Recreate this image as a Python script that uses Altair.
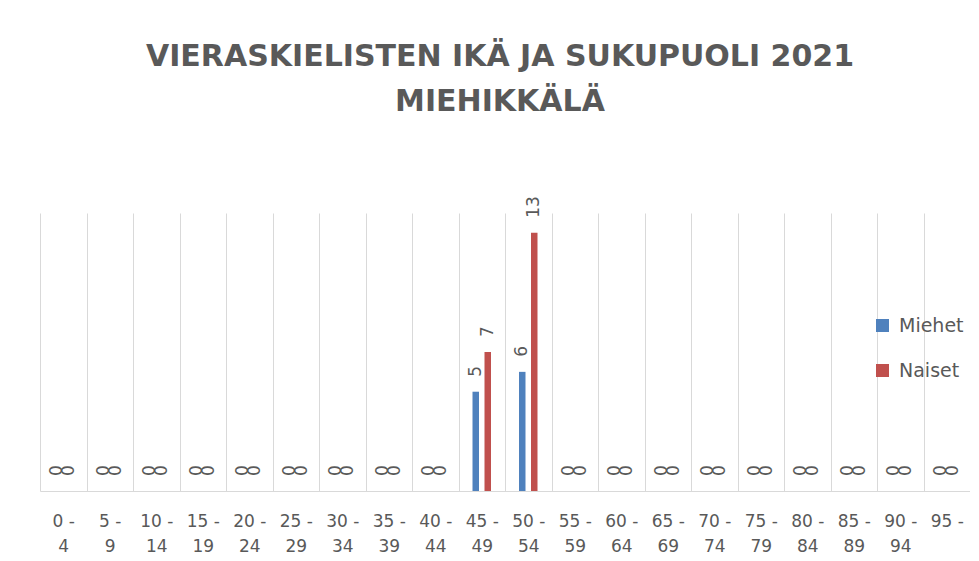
import altair as alt
import pandas as pd

categories = ["0 - 4", "5 - 9", "10 - 14", "15 - 19", "20 - 24", "25 - 29", "30 - 34",
              "35 - 39", "40 - 44", "45 - 49", "50 - 54", "55 - 59", "60 - 64", "65 - 69",
              "70 - 74", "75 - 79", "80 - 84", "85 - 89", "90 - 94", "95 -"]
miehet = [0, 0, 0, 0, 0, 0, 0, 0, 0, 5, 6, 0, 0, 0, 0, 0, 0, 0, 0, 0]
naiset = [0, 0, 0, 0, 0, 0, 0, 0, 0, 7, 13, 0, 0, 0, 0, 0, 0, 0, 0, 0]
series = ["Miehet", "Naiset"]
colors = ["#4F81BD", "#C0504D"]

rows = []
for c, m, n in zip(categories, miehet, naiset):
    rows.append({"ika": c, "sukupuoli": "Miehet", "arvo": m})
    rows.append({"ika": c, "sukupuoli": "Naiset", "arvo": n})
df = pd.DataFrame(rows)

FONT = "DejaVu Sans"
GREY = "#595959"

label_expr = ("indexof(datum.label, ' - ') >= 0 ? "
              "[slice(datum.label, 0, indexof(datum.label, ' - ') + 2), "
              "slice(datum.label, indexof(datum.label, ' - ') + 3)] : datum.label")

x = alt.X("ika:N", sort=categories,
          scale=alt.Scale(paddingInner=0, paddingOuter=0),
          axis=alt.Axis(title=None, labelAngle=0, ticks=False, tickSize=0,
                        grid=True, gridColor="#D9D9D9", gridWidth=1,
                        tickBand="extent", domainColor="#D9D9D9", domainWidth=1,
                        labelFont=FONT, labelFontSize=17, labelColor=GREY,
                        labelPadding=22, labelLineHeight=25, labelOverlap=False,
                        labelFlush=False, labelExpr=label_expr))
xo = alt.XOffset("sukupuoli:N",
                 scale=alt.Scale(domain=series, paddingInner=0, paddingOuter=0.9375))
y = alt.Y("arvo:Q", scale=alt.Scale(domain=[0, 14], nice=False), axis=None)

bars = alt.Chart(df).mark_bar(width=6.5).encode(
    x=x, xOffset=xo, y=y,
    color=alt.Color("sukupuoli:N",
                    scale=alt.Scale(domain=series, range=colors),
                    legend=alt.Legend(title=None, orient="none", legendX=833, legendY=103,
                                      symbolType="square", symbolSize=169,
                                      symbolStrokeWidth=0, symbolOpacity=1,
                                      labelFont=FONT, labelFontSize=19, labelColor=GREY,
                                      labelOffset=7, rowPadding=25, padding=0)),
)

labels = alt.Chart(df).mark_text(angle=270, align="left", baseline="middle", dx=15,
                                 font=FONT, fontSize=17, color=GREY).encode(
    x=x, xOffset=xo, y=y, text=alt.Text("arvo:Q"))

chart = alt.layer(bars, labels).properties(
    width=930, height=278,
    title=alt.TitleParams(["VIERASKIELISTEN IKÄ JA SUKUPUOLI 2021", "MIEHIKKÄLÄ"],
                          font=FONT, fontSize=30, fontWeight="bold", color=GREY,
                          anchor="middle", baseline="alphabetic", lineHeight=45,
                          offset=55, dx=-5),
    autosize=alt.AutoSizeParams(type="none"),
    padding={"left": 32, "top": 205, "right": 0, "bottom": 67},
    background="white",
).configure_view(stroke=None)

chart.save("out.html", embed_options={"renderer": "svg", "actions": False})
